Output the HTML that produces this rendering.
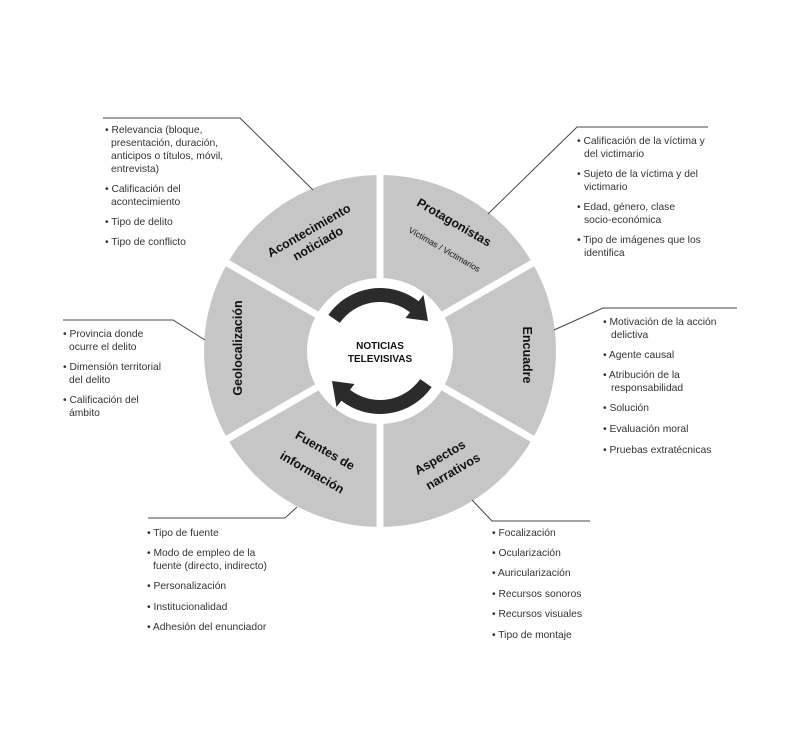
<!DOCTYPE html>
<html><head><meta charset="utf-8"><style>
body{margin:0;background:#fff;width:794px;height:753px;overflow:hidden;position:relative;font-family:"Liberation Sans",sans-serif;}
svg{position:absolute;left:0;top:0}
.l{position:absolute;font-size:10.3px;line-height:13px;color:#333;white-space:nowrap}
.l span{display:block;position:absolute;white-space:nowrap}
</style></head><body>
<svg width="794" height="753" viewBox="0 0 794 753">
<circle cx="380" cy="351" r="124" fill="none" stroke="#c6c6c6" stroke-width="104"/>
<g stroke="#fff" stroke-width="7">
<line x1="380" y1="351" x2="380" y2="160"/>
<line x1="380" y1="351" x2="380" y2="542"/>
<line x1="380" y1="351" x2="545" y2="256"/>
<line x1="380" y1="351" x2="545" y2="446"/>
<line x1="380" y1="351" x2="215" y2="256"/>
<line x1="380" y1="351" x2="215" y2="446"/>
</g>
<circle cx="380" cy="351" r="73" fill="#fff"/>
<g id="ar">
<path d="M334.1,318.9 A56,56 0 0 1 414.5,306.9" fill="none" stroke="#2b2b2b" stroke-width="14"/>
<polygon points="405.5,318 423.5,295 428,321" fill="#2b2b2b"/>
</g>
<use href="#ar" transform="rotate(180 380 351)"/>
<g fill="none" stroke="#444" stroke-width="1">
<polyline points="103,118 240,118 313,190"/>
<polyline points="488,214 577,127 708,127"/>
<polyline points="554,330 603,308 737,308"/>
<polyline points="472,500 492,521 590,521"/>
<polyline points="297,507 285,518 148,518"/>
<polyline points="63,320 173,320 205,340"/>
</g>
<g font-family="Liberation Sans,sans-serif" font-weight="bold" fill="#111" text-anchor="middle" font-size="12.5">
<text x="380" y="349" font-size="10">NOTICIAS</text>
<text x="380" y="362" font-size="10">TELEVISIVAS</text>
<text transform="translate(311,234) rotate(-30)">Acontecimiento</text>
<text transform="translate(320,247) rotate(-30)">noticiado</text>
<text transform="translate(452,226) rotate(30)">Protagonistas</text>
<text transform="translate(443,252) rotate(30)" font-size="8.5" font-weight="normal">Víctimas / Victimarios</text>
<text transform="translate(523,355) rotate(90)">Encuadre</text>
<text transform="translate(242,348) rotate(-90)">Geolocalización</text>
<text transform="translate(442,461) rotate(-30)">Aspectos</text>
<text transform="translate(455,475) rotate(-30)">narrativos</text>
<text transform="translate(323,454) rotate(30)">Fuentes de</text>
<text transform="translate(310,476) rotate(30)">información</text>
</g>
</svg>

<div class="l" style="left:105px;top:0">
<span style="top:124px">• Relevancia (bloque,</span>
<span style="top:137px;left:6px">presentación, duración,</span>
<span style="top:150px;left:6px">anticipos o títulos, móvil,</span>
<span style="top:163px;left:6px">entrevista)</span>
<span style="top:183px">• Calificación del</span>
<span style="top:196px;left:6px">acontecimiento</span>
<span style="top:216px">• Tipo de delito</span>
<span style="top:236px">• Tipo de conflicto</span>
</div>

<div class="l" style="left:577px;top:0">
<span style="top:135px">• Calificación de la víctima y</span>
<span style="top:148px;left:7px">del victimario</span>
<span style="top:168px">• Sujeto de la víctima y del</span>
<span style="top:181px;left:7px">victimario</span>
<span style="top:201px">• Edad, género, clase</span>
<span style="top:214px;left:7px">socio-económica</span>
<span style="top:234px">• Tipo de imágenes que los</span>
<span style="top:247px;left:7px">identifica</span>
</div>

<div class="l" style="left:603px;top:0">
<span style="top:316px">• Motivación de la acción</span>
<span style="top:329px;left:8px">delictiva</span>
<span style="top:349px">• Agente causal</span>
<span style="top:369px">• Atribución de la</span>
<span style="top:382px;left:8px">responsabilidad</span>
<span style="top:402px">• Solución</span>
<span style="top:423px">• Evaluación moral</span>
<span style="top:444px">• Pruebas extratécnicas</span>
</div>

<div class="l" style="left:63px;top:0">
<span style="top:328px">• Provincia donde</span>
<span style="top:341px;left:6px">ocurre el delito</span>
<span style="top:361px">• Dimensión territorial</span>
<span style="top:374px;left:6px">del delito</span>
<span style="top:394px">• Calificación del</span>
<span style="top:407px;left:6px">ámbito</span>
</div>

<div class="l" style="left:147px;top:0">
<span style="top:527px">• Tipo de fuente</span>
<span style="top:547px">• Modo de empleo de la</span>
<span style="top:560px;left:6px">fuente (directo, indirecto)</span>
<span style="top:580px">• Personalización</span>
<span style="top:601px">• Institucionalidad</span>
<span style="top:621px">• Adhesión del enunciador</span>
</div>

<div class="l" style="left:492px;top:0">
<span style="top:527px">• Focalización</span>
<span style="top:547px">• Ocularización</span>
<span style="top:567px">• Auricularización</span>
<span style="top:588px">• Recursos sonoros</span>
<span style="top:608px">• Recursos visuales</span>
<span style="top:629px">• Tipo de montaje</span>
</div>
</body></html>
